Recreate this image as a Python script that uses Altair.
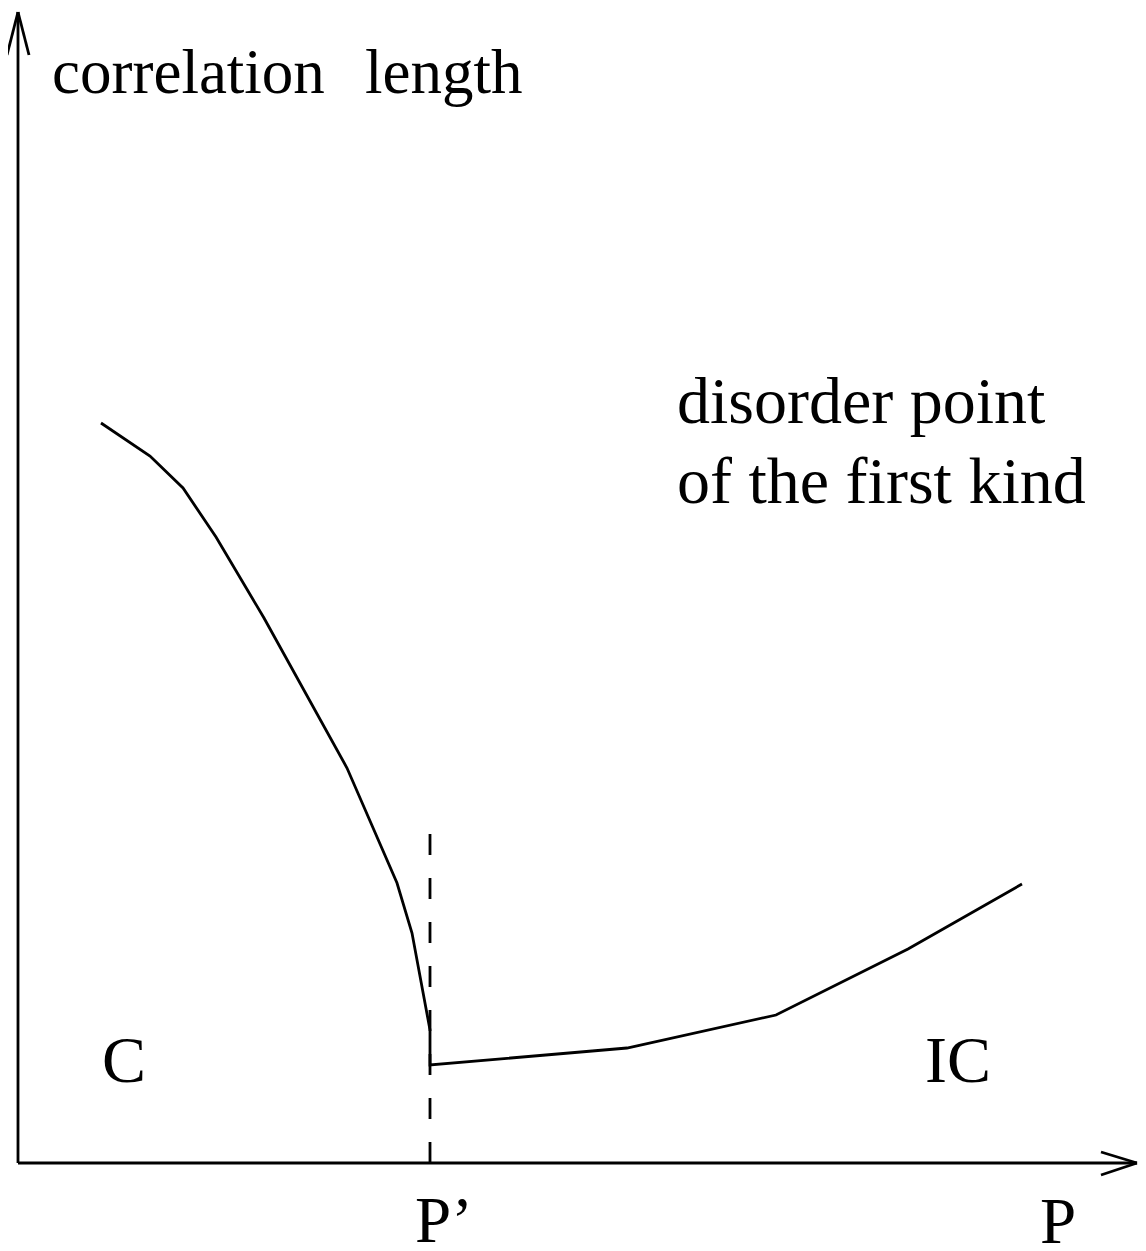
import altair as alt
import pandas as pd

# Curve (P in arbitrary units, correlation length in arbitrary units)
curve_p = [0.83, 1.32, 1.65, 1.98, 2.46, 3.29, 3.79, 3.94, 4.12, 4.12, 6.09, 7.58, 8.90, 10.04]
curve_xi = [7.40, 7.07, 6.75, 6.26, 5.45, 3.95, 2.80, 2.30, 1.33, 0.98, 1.15, 1.48, 2.14, 2.79]

# P' position and height of its dashed marker
p_prime = 4.12
p_prime_top = 3.29

# Axis arrows (segments: x, y, x2, y2)
axis_x = [0.0, 0.0, 0.0, 0.0, 11.19, 11.19]
axis_y = [0.0, 11.51, 11.51, 0.0, 0.0, 0.0]
axis_x2 = [0.0, -0.11, 0.11, 11.19, 10.83, 10.83]
axis_y2 = [11.51, 11.08, 11.08, 0.0, 0.11, -0.12]

# Text annotations
label_text = ["correlation", "length", "disorder point", "of the first kind", "C", "IC", "P\u2019", "P"]
label_x = [0.34, 3.47, 6.59, 6.59, 0.84, 9.07, 3.97, 10.22]
label_y = [10.70, 10.70, 7.40, 6.60, 0.81, 0.81, -0.79, -0.80]
label_size = [63, 63, 66, 66, 66, 66, 65, 65]

curve_df = pd.DataFrame({"p": curve_p, "xi": curve_xi, "order": list(range(len(curve_p)))})
axes_df = pd.DataFrame({"x": axis_x, "y": axis_y, "x2": axis_x2, "y2": axis_y2})
dash_df = pd.DataFrame({"x": [p_prime], "y": [p_prime_top], "y2": [0.0]})
label_df = pd.DataFrame({"text": label_text, "x": label_x, "y": label_y, "size": label_size})

xs = alt.Scale(domain=[-0.10, 11.20], nice=False, zero=False)
ys = alt.Scale(domain=[-0.80, 11.55], nice=False, zero=False)
X = lambda f: alt.X(f, type="quantitative", scale=xs, axis=None)
Y = lambda f: alt.Y(f, type="quantitative", scale=ys, axis=None)

axes = alt.Chart(axes_df).mark_rule(color="black", strokeWidth=2.8).encode(
    x=X("x"), y=Y("y"), x2="x2", y2="y2"
)
curve = alt.Chart(curve_df).mark_line(color="black", strokeWidth=2.8).encode(
    x=X("p"), y=Y("xi"), order="order"
)
dash = alt.Chart(dash_df).mark_rule(color="black", strokeWidth=2.8, strokeDash=[21, 23]).encode(
    x=X("x"), y=Y("y"), y2="y2"
)
labels = alt.Chart(label_df).mark_text(
    align="left", baseline="alphabetic", font="Liberation Serif", color="black"
).encode(
    x=X("x"), y=Y("y"), text="text",
    size=alt.Size("size:Q", scale=None, legend=None),
)

chart = alt.layer(axes, dash, curve, labels).properties(
    width=1130, height=1235, padding=0, autosize=alt.AutoSizeParams(type="none")
).configure(background="white", view=alt.ViewConfig(stroke=None))

chart.save("out.html", embed_options={"renderer": "svg", "actions": False})
